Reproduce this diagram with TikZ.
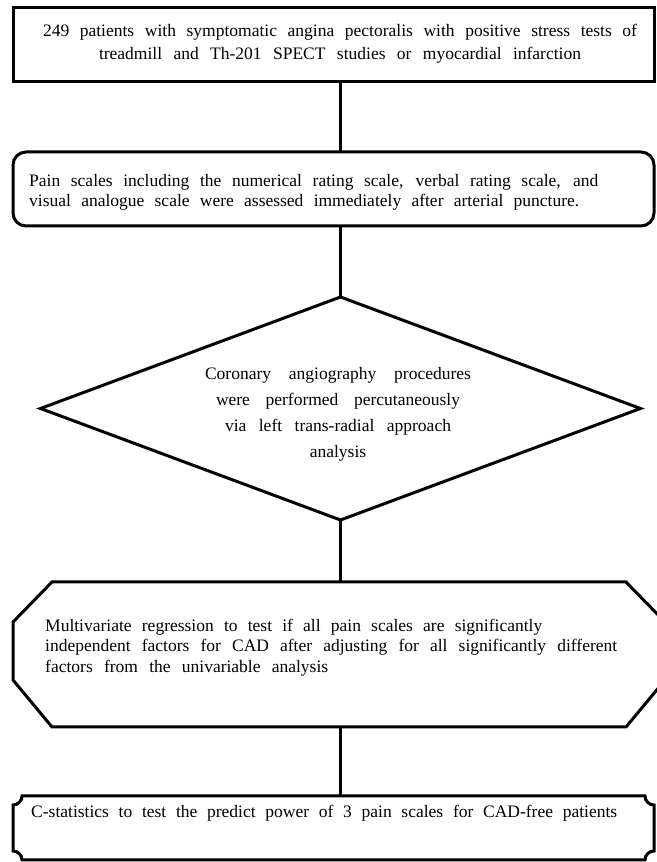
\documentclass[tikz,border=0pt]{standalone}
\usepackage{fontspec}
\setmainfont{Liberation Serif}
\usetikzlibrary{shapes.geometric,calc}
\newcommand{\sline}[2]{\makebox[#1pt][s]{#2}}
\begin{document}
\begin{tikzpicture}[x=1pt,y=1pt,
  boxline/.style={draw=black, line width=3pt},
  shp/.style={inner sep=0pt, outer sep=0pt},
  txt/.style={inner sep=0pt, text=black},
  link/.style={draw=black, line width=3pt}]
\useasboundingbox[fill=white] (0,0) rectangle (656,862);

% shapes
\node[shp, rectangle, boxline, minimum width=641pt, minimum height=74pt] (n1) at (333.5,817) {};
\node[shp, rectangle, rounded corners=13pt, boxline, minimum width=641pt, minimum height=74pt] (n2) at (333.5,673) {};
\node[shp, diamond, boxline, minimum width=600pt, minimum height=223pt] (n3) at (340.5,453.5) {};
\node[shp, rectangle, minimum width=652pt, minimum height=145pt] (n4) at (339,207.5) {};
\node[shp, rectangle, minimum width=641pt, minimum height=64pt] (n5) at (333.5,34) {};

\draw[boxline] ([xshift=39pt]n4.north west) -- ([xshift=-39pt]n4.north east)
  -- ([yshift=-40pt]n4.north east) -- ([yshift=47pt]n4.south east)
  -- ([xshift=-39pt]n4.south east) -- ([xshift=39pt]n4.south west)
  -- ([yshift=47pt]n4.south west) -- ([yshift=-40pt]n4.north west) -- cycle;

\draw[boxline] ([xshift=9pt]n5.north west) -- ([xshift=-9pt]n5.north east)
  arc[start angle=180, end angle=270, radius=9pt] -- ([yshift=9pt]n5.south east)
  arc[start angle=90, end angle=180, radius=9pt] -- ([xshift=9pt]n5.south west)
  arc[start angle=0, end angle=90, radius=9pt] -- ([yshift=-9pt]n5.north west)
  arc[start angle=270, end angle=360, radius=9pt] -- cycle;

% connectors
\draw[link] (n1.south -| n3.north) -- (n2.north -| n3.north);
\draw[link] (n2.south -| n3.north) -- (n3.north);
\draw[link] (n3.south) -- (n4.north -| n3.south);
\draw[link] (n4.south -| n3.south) -- (n5.north -| n3.south);

% texts
\node[txt, align=center, font=\fontsize{17.5}{23}\selectfont] (t1) at (340,818.5)
  {\sline{594}{249 patients with symptomatic angina pectoralis with positive stress tests of}\\
   \sline{482}{treadmill and Th-201 SPECT studies or myocardial infarction}};
\node[txt, align=left, anchor=west, font=\fontsize{17.5}{20}\selectfont] (t2) at (29,670)
  {\sline{569}{Pain scales including the numerical rating scale, verbal rating scale, and}\\
   \sline{550}{visual analogue scale were assessed immediately after arterial puncture.}};
\node[txt, align=center, font=\fontsize{17.5}{26}\selectfont] (t3) at (338,448)
  {\sline{266}{Coronary angiography procedures}\\
   \sline{244}{were performed percutaneously}\\
   \sline{226}{via left trans-radial approach}\\
   analysis};
\node[txt, align=left, anchor=west, font=\fontsize{17.5}{20.5}\selectfont] (t4) at (45,214.5)
  {\sline{497}{Multivariate regression to test if all pain scales are significantly}\\
   \sline{572}{independent factors for CAD after adjusting for all significantly different}\\
   \sline{283}{factors from the univariable analysis}};
\node[txt, anchor=west, font=\fontsize{17.5}{20}\selectfont] (t5) at (31,49)
  {\sline{586}{C-statistics to test the predict power of 3 pain scales for CAD-free patients}};
\end{tikzpicture}
\end{document}
